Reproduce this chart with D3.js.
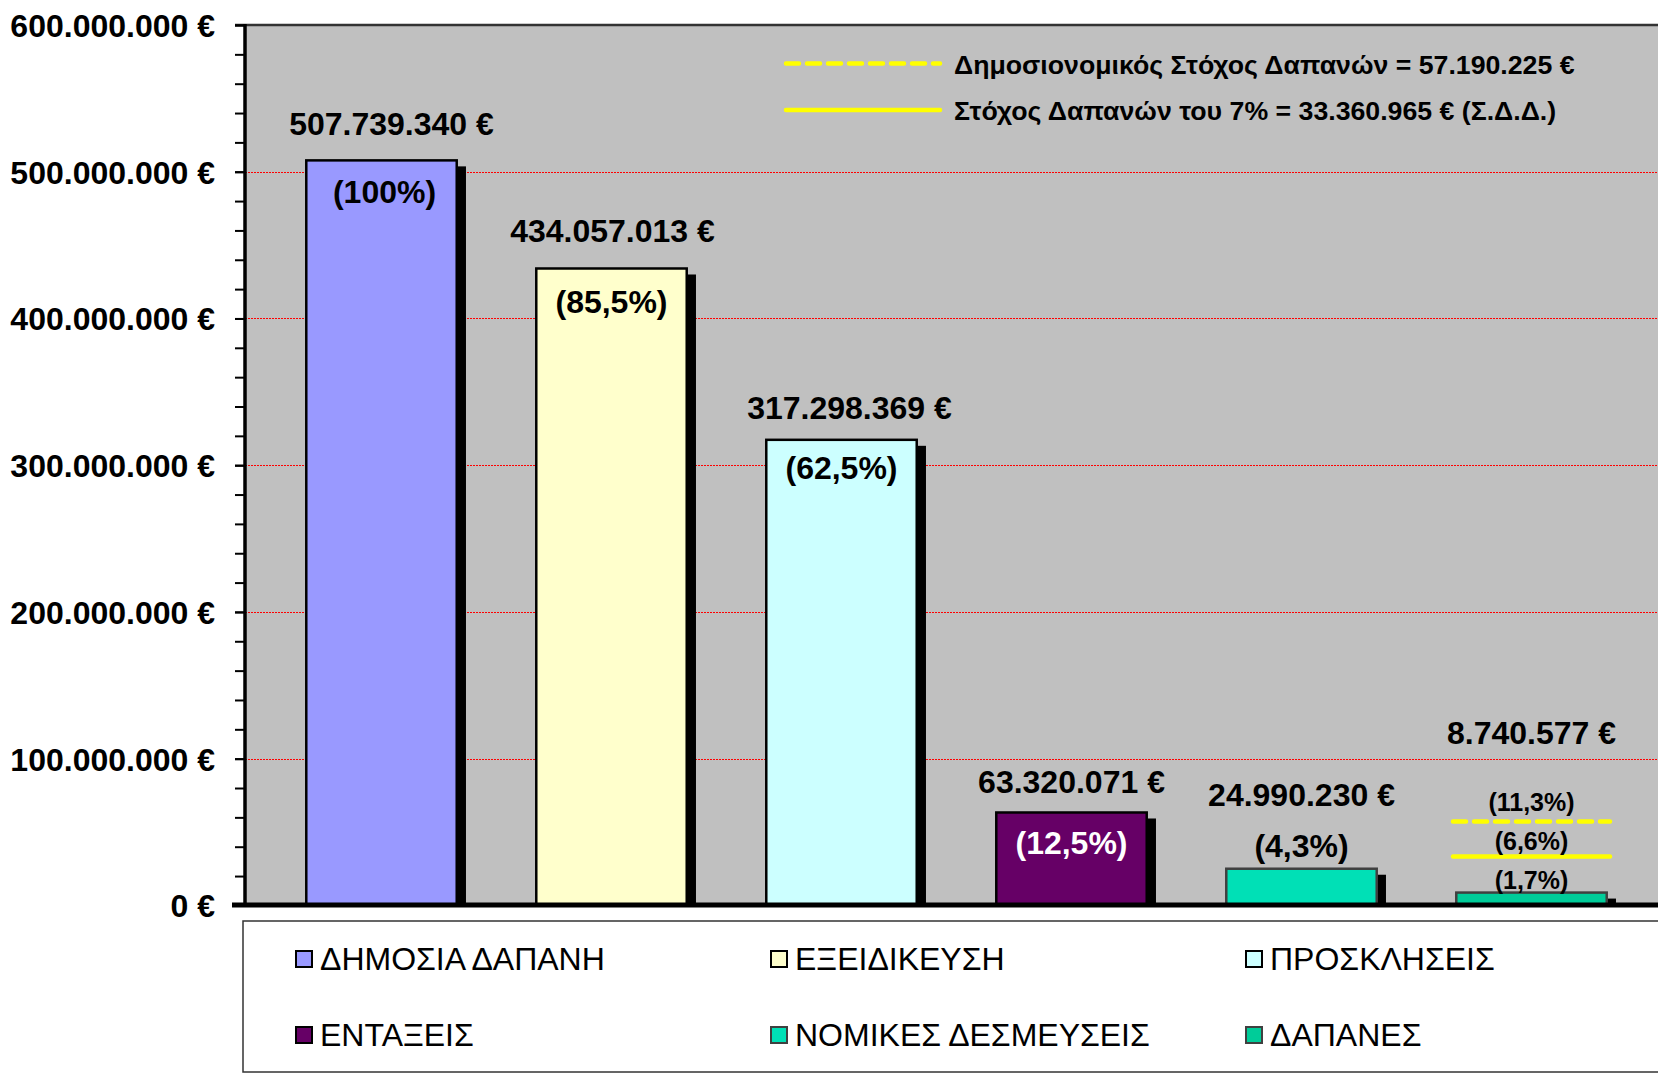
<!DOCTYPE html>
<html>
<head>
<meta charset="utf-8">
<script src="https://cdn.jsdelivr.net/npm/d3@7"></script>
<style>
  html, body { margin: 0; padding: 0; background: #ffffff; }
  svg { display: block; font-family: "Liberation Sans", Arial, sans-serif; }
</style>
</head>
<body>
<svg id="chart" width="1658" height="1073"></svg>
<script>
// ---------- data ----------
const categories = ["ΔΗΜΟΣΙΑ ΔΑΠΑΝΗ", "ΕΞΕΙΔΙΚΕΥΣΗ", "ΠΡΟΣΚΛΗΣΕΙΣ", "ΕΝΤΑΞΕΙΣ", "ΝΟΜΙΚΕΣ ΔΕΣΜΕΥΣΕΙΣ", "ΔΑΠΑΝΕΣ"];
const values = [507739340, 434057013, 317298369, 63320071, 24990230, 8740577];
const valueLabels = ["507.739.340 €", "434.057.013 €", "317.298.369 €", "63.320.071 €", "24.990.230 €", "8.740.577 €"];
const pctLabels = ["(100%)", "(85,5%)", "(62,5%)", "(12,5%)", "(4,3%)", "(1,7%)"];
const targetNames = ["Δημοσιονομικός Στόχος Δαπανών = 57.190.225 €", "Στόχος Δαπανών του 7% = 33.360.965 € (Σ.Δ.Δ.)"];
const targetValues = [57190225, 33360965];
const targetPctLabels = ["(11,3%)", "(6,6%)"];
const yTickValues = [0, 100000000, 200000000, 300000000, 400000000, 500000000, 600000000];
const yMinorTickValues = d3.range(0, 600000001, 20000000);

// ---------- styles / layout ----------
const colors = ["#9999FF", "#FFFFCC", "#CCFFFF", "#660066", "#00E0B6", "#00CC99"];
const borders = ["#000000", "#000000", "#000000", "#000000", "#404040", "#404040"];
const pctColors = ["#000", "#000", "#000", "#fff", "#000", "#000"];
const valueLabelDy = [-25, -26, -21, -19, -63, -149];   // px relative to bar top
const pctLabelDy = [43, 45, 39, 42, -12, -4];            // px relative to bar top
const targetPctDy = [-10, -6];
const labelDx = [10, 1, 8, 0, 0, 0];

const svg = d3.select("#chart");
const W = 1658, H = 1073;
const plot = { left: 245, top: 25, right: 1658, bottom: 905.4 };

const y = d3.scaleLinear().domain([0, 600000000]).range([plot.bottom, plot.top]);
const x = d3.scaleBand().domain(categories).range([266.5, 1646.5]).paddingInner(0.335).paddingOuter(0.1675);

const loc = d3.formatLocale({ decimal: ",", thousands: ".", grouping: [3], currency: ["", " €"] });
const fmt = loc.format(",.0f");

// plot background
svg.append("rect").attr("x", plot.left).attr("y", plot.top)
  .attr("width", plot.right - plot.left).attr("height", plot.bottom - plot.top)
  .attr("fill", "#C0C0C0");

// gridlines
svg.append("g").selectAll("line").data(yTickValues.filter(v => v > 0 && v < 600000000)).join("line")
  .attr("x1", plot.left).attr("x2", plot.right)
  .attr("y1", d => Math.round(y(d)) + 0.5).attr("y2", d => Math.round(y(d)) + 0.5)
  .attr("stroke", "#FF0000").attr("stroke-width", 1).attr("stroke-dasharray", "2,1");

// top border
svg.append("line").attr("x1", plot.left - 10).attr("x2", plot.right)
  .attr("y1", plot.top).attr("y2", plot.top)
  .attr("stroke", "#333").attr("stroke-width", 2.5);

// shadows
const bw = x.bandwidth();
svg.append("g").selectAll("rect").data(values).join("rect")
  .attr("x", (d, i) => x(categories[i]) + 8)
  .attr("y", d => y(d) + 6)
  .attr("width", bw)
  .attr("height", d => Math.max(0, plot.bottom - y(d) - 6))
  .attr("fill", "#000");

// bars
svg.append("g").selectAll("rect").data(values).join("rect")
  .attr("x", (d, i) => x(categories[i]) + 1.25)
  .attr("y", d => y(d))
  .attr("width", bw - 2.5)
  .attr("height", d => plot.bottom - y(d))
  .attr("fill", (d, i) => colors[i])
  .attr("stroke", (d, i) => borders[i])
  .attr("stroke-width", 2.5);

// target lines across last bar
const lastCat = categories[categories.length - 1];
const tx1 = x(lastCat) - 2, tx2 = x(lastCat) + bw + 2;
svg.append("g").selectAll("line").data(targetValues).join("line")
  .attr("x1", tx1).attr("x2", tx2)
  .attr("y1", d => y(d)).attr("y2", d => y(d))
  .attr("stroke", "#FFFF00").attr("stroke-width", 4.5)
  .attr("stroke-linecap", "round")
  .attr("stroke-dasharray", (d, i) => i === 0 ? "13,8" : null);

// y axis
const gMinor = svg.append("g").attr("transform", `translate(${plot.left},0)`)
  .call(d3.axisLeft(y).tickValues(yMinorTickValues).tickSize(10).tickFormat(""));
gMinor.select(".domain").remove();
gMinor.selectAll("line").attr("stroke", "#000").attr("stroke-width", 2);

const gMajor = svg.append("g").attr("transform", `translate(${plot.left},0)`)
  .call(d3.axisLeft(y).tickValues(yTickValues).tickSize(10).tickPadding(20).tickFormat(d => fmt(d) + " €"));
gMajor.select(".domain").remove();
gMajor.selectAll("line").attr("stroke", "#000").attr("stroke-width", 2);
gMajor.selectAll("text")
  .attr("font-family", "'Liberation Sans', Arial, sans-serif")
  .attr("font-size", 32).attr("font-weight", "bold").attr("fill", "#000")
  .attr("dy", "0.36em");

svg.append("line").attr("x1", plot.left).attr("x2", plot.left)
  .attr("y1", plot.top - 1).attr("y2", plot.bottom)
  .attr("stroke", "#000").attr("stroke-width", 3.5);

// baseline
svg.append("line").attr("x1", 232).attr("x2", W)
  .attr("y1", plot.bottom - 0.5).attr("y2", plot.bottom - 0.5)
  .attr("stroke", "#000").attr("stroke-width", 5);

// value labels
svg.append("g").selectAll("text").data(values).join("text")
  .attr("x", (d, i) => x(categories[i]) + bw / 2 + labelDx[i])
  .attr("y", (d, i) => y(d) + valueLabelDy[i])
  .attr("text-anchor", "middle")
  .attr("font-size", 32).attr("font-weight", "bold").attr("fill", "#000")
  .text((d, i) => valueLabels[i]);

// percentage labels
svg.append("g").selectAll("text").data(values).join("text")
  .attr("x", (d, i) => x(categories[i]) + bw / 2 + (i === 0 ? 3 : 0))
  .attr("y", (d, i) => y(d) + pctLabelDy[i])
  .attr("text-anchor", "middle")
  .attr("font-size", (d, i) => i === 5 ? 25 : 32)
  .attr("font-weight", "bold")
  .attr("fill", (d, i) => pctColors[i])
  .text((d, i) => pctLabels[i]);

// target percentage labels
svg.append("g").selectAll("text").data(targetValues).join("text")
  .attr("x", x(lastCat) + bw / 2)
  .attr("y", (d, i) => y(d) + targetPctDy[i])
  .attr("text-anchor", "middle")
  .attr("font-size", 25).attr("font-weight", "bold").attr("fill", "#000")
  .text((d, i) => targetPctLabels[i]);

// target legend (top right)
const tl = svg.append("g");
targetNames.forEach((name, i) => {
  const ly = i === 0 ? 63.5 : 110;
  tl.append("line").attr("x1", 786).attr("x2", 940).attr("y1", ly).attr("y2", ly)
    .attr("stroke", "#FFFF00").attr("stroke-width", 4.5)
    .attr("stroke-linecap", "round")
    .attr("stroke-dasharray", i === 0 ? "13,8" : null);
  tl.append("text").attr("x", 954).attr("y", ly + 10)
    .attr("font-size", 26.7).attr("font-weight", "bold").attr("fill", "#000")
    .text(name);
});

// series legend (bottom)
svg.append("rect").attr("x", 243).attr("y", 921).attr("width", W).attr("height", 151)
  .attr("fill", "#fff").attr("stroke", "#333").attr("stroke-width", 1.5);

const legX = [295, 770, 1245], legY = [950, 1026];
const lg = svg.append("g").selectAll("g").data(categories).join("g")
  .attr("transform", (d, i) => `translate(${legX[i % 3]},${legY[Math.floor(i / 3)]})`);
lg.append("rect").attr("x", 1).attr("y", 1).attr("width", 16).attr("height", 16)
  .attr("fill", (d, i) => colors[i])
  .attr("stroke", (d, i) => i >= 4 ? "#404040" : "#000").attr("stroke-width", 2);
lg.append("text").attr("x", 25).attr("y", 20)
  .attr("font-size", 32).attr("fill", "#000")
  .text(d => d);
</script>
</body>
</html>
